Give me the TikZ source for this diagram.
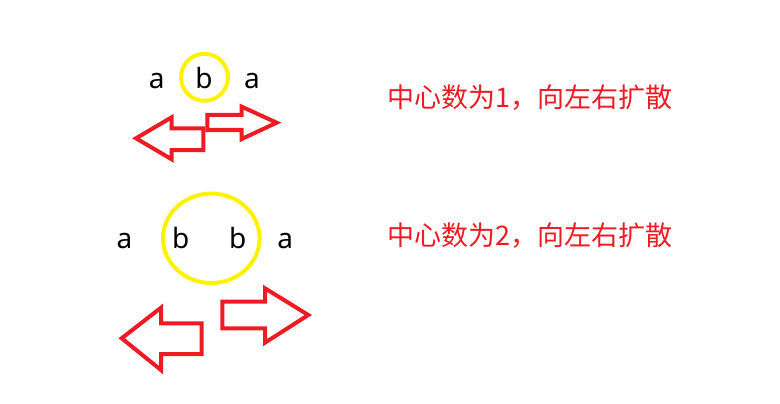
\documentclass[tikz,border=0pt]{standalone}
\usepackage{fontspec}
\newfontfamily\cjk{Noto Sans CJK SC}
\newfontfamily\lat{Noto Sans}
\definecolor{pred}{RGB}{237,28,36}
\definecolor{pyel}{RGB}{255,242,0}
\begin{document}
\begin{tikzpicture}[x=1pt,y=-1pt,
  letter/.style={inner sep=0pt,anchor=base,font=\lat\fontsize{28}{30}\selectfont},
  note/.style={inner sep=0pt,anchor=base west,text=pred,font=\cjk\fontsize{27}{30}\selectfont},
  arr/.style={draw=pred,line width=4pt,miter limit=10},
  ring/.style={draw=pyel,line width=4pt}]
\useasboundingbox (0,0) rectangle (780,404);
\fill[white] (0,0) rectangle (780,404);
% row 1
\node[letter] (a1) at (156.7,88.3) {a};
\node[letter] (b1) at (204,88.3) {b};
\node[letter] (a2) at (252,88.3) {a};
\draw[ring] (204.5,77.3) circle (23.5);
\draw[arr] (136,138.3) -- (171.7,117.3) -- (171.7,128.3) -- (203.3,128.3) -- (203.3,150) -- (171.7,150) -- (171.7,159.3) -- cycle;
\draw[arr] (276.7,122.7) -- (241.7,106.7) -- (241.7,115) -- (207.3,115) -- (207.3,130) -- (241.7,130) -- (241.7,139) -- cycle;
\node[note] (t1) at (387,107) {中心数为1，向左右扩散};
% row 2
\node[letter] (a3) at (124.5,248.3) {a};
\node[letter] (b2) at (180.8,248.3) {b};
\node[letter] (b3) at (237.8,248.3) {b};
\node[letter] (a4) at (285.3,248.3) {a};
\draw[ring] (211.3,238.3) ellipse [x radius=48.3,y radius=44.7];
\draw[arr] (121.7,338.3) -- (161,307.7) -- (161,323.3) -- (201.7,323.3) -- (201.7,354) -- (161,354) -- (161,370) -- cycle;
\draw[arr] (308.3,315) -- (265,288.3) -- (265,301.7) -- (222.3,301.7) -- (222.3,328.3) -- (265,328.3) -- (265,342.7) -- cycle;
\node[note] (t2) at (387,245) {中心数为2，向左右扩散};
\end{tikzpicture}
\end{document}
